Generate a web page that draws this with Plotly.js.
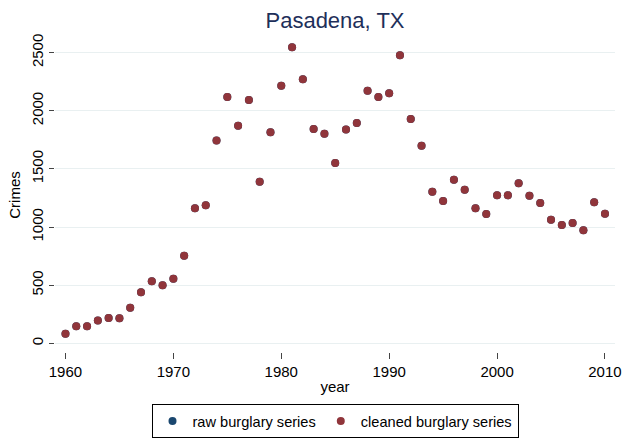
<!DOCTYPE html>
<html>
<head>
<meta charset="utf-8">
<script src="https://cdn.plot.ly/plotly-3.0.1.min.js"></script>
<style>html,body{margin:0;padding:0;background:#fff;}#chart{width:636px;height:438px;}</style>
</head>
<body>
<div id="chart"></div>
<script>
const years = [1960,1961,1962,1963,1964,1965,1966,1967,1968,1969,
  1970,1971,1972,1973,1974,1975,1976,1977,1978,1979,
  1980,1981,1982,1983,1984,1985,1986,1987,1988,1989,
  1990,1991,1992,1993,1994,1995,1996,1997,1998,1999,
  2000,2001,2002,2003,2004,2005,2006,2007,2008,2009,2010];
const rawBurglary = [83,146,146,195,218,215,306,439,533,499,
  556,754,1161,1187,1745,2119,1872,2093,1390,1815,
  2216,2546,2271,1843,1803,1551,1838,1895,2173,2119,
  2151,2478,1930,1700,1304,1224,1407,1321,1161,1112,
  1273,1273,1376,1270,1207,1063,1018,1035,972,1213,1115];
const cleanedBurglary = [83,146,146,195,218,215,306,439,533,499,
  556,754,1161,1187,1745,2119,1872,2093,1390,1815,
  2216,2546,2271,1843,1803,1551,1838,1895,2173,2119,
  2151,2478,1930,1700,1304,1224,1407,1321,1161,1112,
  1273,1273,1376,1270,1207,1063,1018,1035,972,1213,1115];
const xTicks = [1960,1970,1980,1990,2000,2010];
const yTicks = [0,500,1000,1500,2000,2500];

const font = 'Liberation Sans, Arial, sans-serif';
const traces = [
  {x: years, y: rawBurglary, type: 'scatter', mode: 'markers', name: 'raw burglary series',
   marker: {color: '#1a476f', size: 8}},
  {x: years, y: cleanedBurglary, type: 'scatter', mode: 'markers', name: 'cleaned burglary series',
   marker: {color: '#90353b', size: 8}}
];
const layout = {
  width: 636, height: 438,
  paper_bgcolor: '#ffffff', plot_bgcolor: '#ffffff',
  margin: {l: 55, r: 21, t: 38, b: 86},
  font: {family: font, color: '#000', size: 15},
  title: {text: 'Pasadena, TX', font: {family: font, size: 22, color: '#1e2f5a'},
          x: 0.5, xref: 'paper', y: 1 - 20/438, yref: 'container', yanchor: 'middle'},
  xaxis: {range: [1959.03, 2010.93], tickvals: xTicks, ticktext: xTicks.map(String),
          showgrid: false, zeroline: false, showline: false,
          ticks: 'outside', ticklen: 6, tickcolor: '#444', tickwidth: 1,
          tickfont: {size: 15},
          title: {text: 'year', font: {size: 15}, standoff: 2}},
  yaxis: {range: [-75, 2626], tickvals: yTicks, ticktext: yTicks.map(String),
          showgrid: true, gridcolor: '#e9f0f1', gridwidth: 1, zeroline: false, showline: false,
          ticks: 'outside', ticklen: 5, tickcolor: '#444', tickwidth: 1, tickangle: -90,
          tickfont: {size: 15},
          title: {text: 'Crimes', font: {size: 15}, standoff: 4}},
  showlegend: true,
  legend: {orientation: 'h', x: 0.5, xanchor: 'center', xref: 'paper', y: 0, yref: 'container', yanchor: 'bottom',
           bordercolor: '#000', borderwidth: 1, bgcolor: '#fff', font: {size: 14.6}},
};
Plotly.newPlot('chart', traces, layout, {displayModeBar: false, staticPlot: true});
</script>
</body>
</html>
